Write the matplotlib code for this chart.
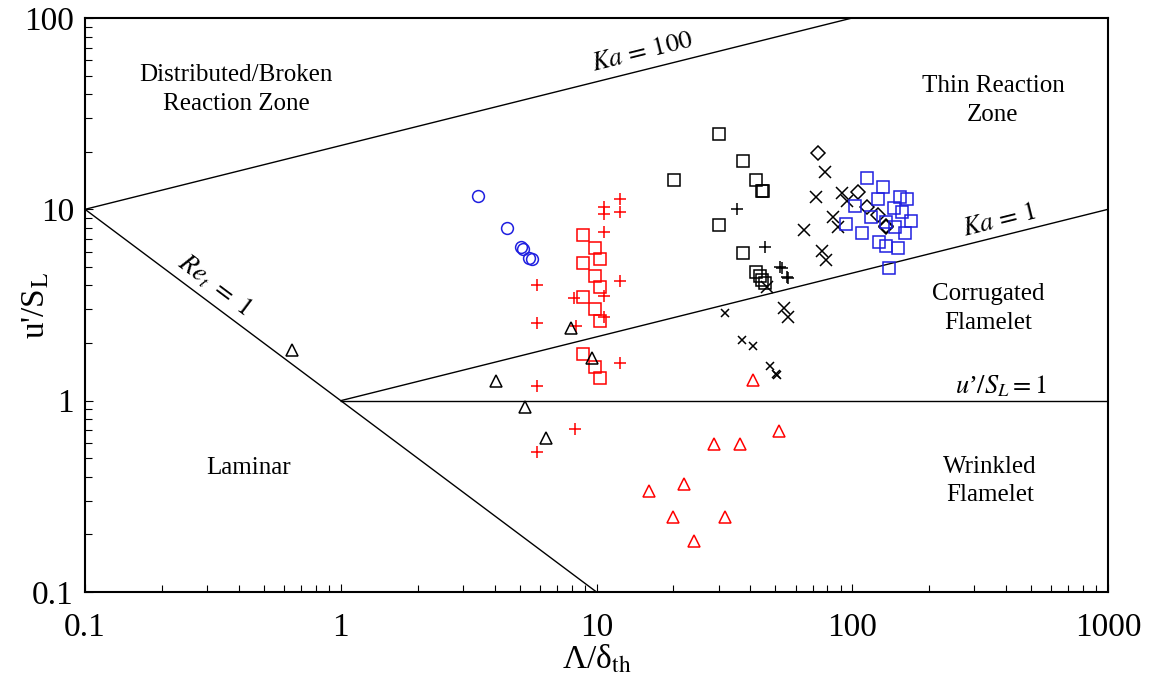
import numpy as np
import matplotlib
matplotlib.use("Agg")
import matplotlib.pyplot as plt

plt.rcParams['font.family'] = ['Liberation Serif', 'DejaVu Serif']
plt.rcParams['mathtext.fontset'] = 'stix'

# ---- data ----
blue_circle_x = [3.44, 4.47, 5.07, 5.18, 5.45, 5.60]
blue_circle_y = [11.75, 8.0, 6.32, 6.17, 5.55, 5.48]

red_square_x = [8.83, 9.89, 10.32, 8.83, 9.89, 10.32, 8.83, 9.89, 10.32, 8.83, 9.89, 10.32]
red_square_y = [7.32, 6.28, 5.53, 5.23, 4.49, 3.94, 3.47, 3.00, 2.62, 1.75, 1.50, 1.31]

red_plus_x = [12.4, 12.4, 10.7, 10.7, 10.7, 12.4, 5.84, 8.20, 10.7, 10.7, 8.31, 5.84, 12.4, 5.84, 8.23, 5.84]
red_plus_y = [11.3, 9.73, 10.3, 9.46, 7.62, 4.24, 4.03, 3.44, 3.53, 2.75, 2.46, 2.54, 1.58, 1.19, 0.71, 0.54]

black_tri_x = [0.645, 4.05, 5.25, 6.35, 7.95, 9.60]
black_tri_y = [1.84, 1.27, 0.93, 0.64, 2.40, 1.67]

red_tri_x = [40.9, 51.6, 28.8, 36.3, 22.0, 16.0, 20.0, 31.7, 24.1]
red_tri_y = [1.28, 0.69, 0.59, 0.59, 0.367, 0.337, 0.246, 0.246, 0.184]

black_square_x = [20.1, 30.2, 37.5, 42.2, 44.3, 44.9, 30.2, 37.5, 42.2, 43.6, 44.5, 45.6]
black_square_y = [14.2, 24.8, 17.8, 14.2, 12.5, 12.5, 8.26, 5.90, 4.72, 4.50, 4.28, 4.14]

black_plus_x = [35.3, 45.6, 52.2, 53.1, 55.4, 56.2]
black_plus_y = [10.0, 6.38, 5.02, 4.92, 4.45, 4.36]

black_x_x = [78.3, 71.9, 91.4, 95.1, 84.3, 87.7, 64.9, 75.9, 78.7, 46.5, 54.2, 56.2]
black_x_y = [15.7, 11.65, 12.1, 11.0, 9.09, 8.12, 7.80, 6.06, 5.44, 3.94, 3.04, 2.75]

black_smallx_x = [31.8, 37.2, 41.0, 47.7, 50.3, 50.9]
black_smallx_y = [2.86, 2.08, 1.94, 1.52, 1.38, 1.36]

black_diamond_x = [73.7, 105.6, 113.9, 125.8, 135.5, 136.1]
black_diamond_y = [19.6, 12.3, 10.3, 9.35, 8.19, 8.06]

blue_square_x = [114.7, 132.3, 153.7, 164.4, 125.6, 102.5, 145.9, 156.5, 118.1, 169.7,
                 94.7, 135.9, 147.0, 161.1, 109.5, 127.0, 136.1, 151.2, 139.8]
blue_square_y = [14.6, 13.05, 11.65, 11.3, 11.3, 10.45, 10.1, 9.73, 9.16, 8.72,
                 8.36, 8.57, 8.06, 7.48, 7.48, 6.73, 6.44, 6.26, 4.96]

x_ticks = [0.1, 1, 10, 100, 1000]
x_tick_labels = ['0.1', '1', '10', '100', '1000']
y_ticks = [0.1, 1, 10, 100]
y_tick_labels = ['0.1', '1', '10', '100']

# ---- figure ----
fig = plt.figure(figsize=(11.52, 6.81), dpi=100)
ax = fig.add_axes([0.0738, 0.1307, 0.888, 0.8429])
ax.set_xscale('log')
ax.set_yscale('log')
ax.set_xlim(0.1, 1000)
ax.set_ylim(0.1, 100)

# regime boundaries
lw = 1.0
xk100 = np.array([0.1, 100.0])
ax.plot(xk100, 100 ** (2 / 3) * xk100 ** (1 / 3), color='black', lw=lw)
xk1 = np.array([1.0, 1000.0])
ax.plot(xk1, xk1 ** (1 / 3), color='black', lw=lw)
xre = np.array([0.1, 10.0])
ax.plot(xre, 1.0 / xre, color='black', lw=lw)
ax.plot([1, 1000], [1, 1], color='black', lw=lw)

mew = 1.1
blue = '#1f1fe0'
ax.plot(blue_circle_x, blue_circle_y, 'o', ms=8.5, mfc='none', mec=blue, mew=mew)
ax.plot(red_square_x, red_square_y, 's', ms=8.5, mfc='none', mec='red', mew=mew)
ax.plot(red_plus_x, red_plus_y, '+', ms=8.5, color='red', mew=mew)
ax.plot(black_tri_x, black_tri_y, '^', ms=9, mfc='none', mec='black', mew=mew)
ax.plot(red_tri_x, red_tri_y, '^', ms=9, mfc='none', mec='red', mew=mew)
ax.plot(black_square_x, black_square_y, 's', ms=8.5, mfc='none', mec='black', mew=mew)
ax.plot(black_plus_x, black_plus_y, '+', ms=9, color='black', mew=mew)
ax.plot(black_x_x, black_x_y, 'x', ms=8, color='black', mew=mew)
ax.plot(black_smallx_x, black_smallx_y, 'x', ms=6, color='black', mew=mew)
ax.plot(black_diamond_x, black_diamond_y, 'D', ms=7, mfc='none', mec='black', mew=mew)
ax.plot(blue_square_x, blue_square_y, 's', ms=8.5, mfc='none', mec=blue, mew=mew)

# angles of lines on screen
def screen_angle(p1, p2):
    a = ax.transData.transform(p1)
    b = ax.transData.transform(p2)
    return np.degrees(np.arctan2(b[1] - a[1], b[0] - a[0]))

ang_ka = screen_angle((1, 1), (1000, 10))
ang_re = screen_angle((0.1, 10), (10, 0.1))

fs_region = 18
ls = 1.4
ax.text(0.389, 42.1, 'Distributed/Broken\nReaction Zone', ha='center', va='center',
        fontsize=fs_region, linespacing=ls)
ax.text(355, 36.9, 'Thin Reaction\nZone', ha='center', va='center', fontsize=fs_region, linespacing=ls)
ax.text(340, 3.02, 'Corrugated\nFlamelet', ha='center', va='center', fontsize=fs_region, linespacing=ls)
ax.text(0.434, 0.445, 'Laminar', ha='center', va='center', fontsize=fs_region)
ax.text(346, 0.380, 'Wrinkled\nFlamelet', ha='center', va='center', fontsize=fs_region, linespacing=ls)

fs_line = 19
ax.text(15.1, 65.7, r'$Ka\,=\,100$', ha='center', va='center', fontsize=fs_line,
        rotation=ang_ka, rotation_mode='anchor')
ax.text(375, 8.70, r'$Ka\,=\,1$', ha='center', va='center', fontsize=fs_line,
        rotation=ang_ka, rotation_mode='anchor')
ax.text(0.322, 4.03, r'$Re_t\ =\ 1$', ha='center', va='center', fontsize=fs_line,
        rotation=ang_re, rotation_mode='anchor')
ax.text(382, 1.19, "$u$\u2019$/S_L = 1$", ha='center', va='center', fontsize=fs_line)

# axes styling
for side in ['top', 'right', 'left', 'bottom']:
    ax.spines[side].set_linewidth(1.5)
ax.tick_params(which='both', direction='in', top=False, right=False)
ax.tick_params(which='major', length=6, width=0.8, labelsize=24)
ax.tick_params(which='minor', length=5, width=0.8)
ax.tick_params(axis='x', which='major', pad=15)
ax.tick_params(axis='y', which='major', pad=8)
ax.set_xticks(x_ticks)
ax.set_xticklabels(x_tick_labels)
ax.set_yticks(y_ticks)
ax.set_yticklabels(y_tick_labels)

ax.set_xlabel(r'Λ/δ$_{\mathrm{th}}$', fontsize=24, labelpad=0)
ax.set_ylabel(r"u'/S$_{\mathrm{L}}$", fontsize=24, va='center')
ax.yaxis.set_label_coords(-0.048, 0.5)

fig.savefig('out.png', dpi=100)
